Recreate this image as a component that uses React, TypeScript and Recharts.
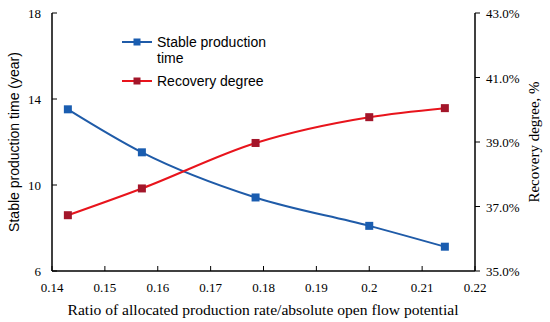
import React from "react";
import { LineChart, Line, XAxis, YAxis, Legend } from "recharts";

// allocated production rate / AOF ratio
const ratios = [0.143, 0.157, 0.1785, 0.2, 0.2143];
const stableTime = [13.52, 11.52, 9.42, 8.1, 7.13];
const recoveryDegree = [36.73, 37.56, 38.97, 39.77, 40.05];

const xTicks = [0.14, 0.15, 0.16, 0.17, 0.18, 0.19, 0.2, 0.21, 0.22];
const leftTicks = [6, 10, 14, 18];
const rightTicks = [35, 37, 39, 41, 43];
const legendOrder = ["time", "recovery"];

const BLUE = "#1f5ba8";
const BLUE_DOT = "#1a5db0";
const RED = "#e8141c";
const RED_DOT = "#a3162a";

const serif = "Liberation Serif";
const sans = "Liberation Sans";

const data = ratios.map((r, i) => ({
  ratio: r,
  time: stableTime[i],
  recovery: recoveryDegree[i],
}));

const fmtX = (v: number) => String(parseFloat(v.toFixed(2)));

const XTick = (p: any) => (
  <g>
    <line x1={p.x} x2={p.x} y1={p.y} y2={p.y - 5} stroke="#000" strokeWidth={1} />
    <text x={p.x} y={p.y + 21} textAnchor="middle" fontFamily={serif} fontSize={13} fill="#000">
      {fmtX(p.payload.value)}
    </text>
  </g>
);

const LeftTick = (p: any) => (
  <g>
    <line x1={p.x} x2={p.x + 5} y1={p.y} y2={p.y} stroke="#000" strokeWidth={1} />
    <text x={p.x - 11} y={p.y + 4.5} textAnchor="end" fontFamily={serif} fontSize={13} fill="#000">
      {p.payload.value}
    </text>
  </g>
);

const RightTick = (p: any) => (
  <g>
    <line x1={p.x} x2={p.x + 5} y1={p.y} y2={p.y} stroke="#000" strokeWidth={1} />
    <text x={p.x + 11} y={p.y + 5} textAnchor="start" fontFamily={serif} fontSize={13} fill="#000">
      {p.payload.value.toFixed(1) + "%"}
    </text>
  </g>
);

const squareDot = (color: string, size: number) => (p: any) => (
  <rect
    key={p.index}
    x={p.cx - size / 2}
    y={p.cy - size / 2}
    width={size}
    height={size}
    fill={color}
  />
);

const LegendBox = (props: any) => {
  const items = [...(props.payload || [])].sort(
    (a: any, b: any) => legendOrder.indexOf(a.dataKey) - legendOrder.indexOf(b.dataKey)
  );
  return (
    <div style={{ fontFamily: sans, fontSize: 14, color: "#000", lineHeight: "16px" }}>
      {items.map((it: any, i: number) => {
        const dotColor = it.dataKey === "time" ? BLUE_DOT : RED_DOT;
        return (
          <div key={i} style={{ display: "flex", alignItems: "flex-start", marginBottom: 7 }}>
            <svg width={36} height={16} style={{ flex: "none" }}>
              <line x1={1} x2={31} y1={8} y2={8} stroke={it.color} strokeWidth={2} />
              <rect x={12.5} y={4.5} width={7} height={7} fill={dotColor} />
            </svg>
            <span style={{ width: it.dataKey === "time" ? 118 : 160 }}>{it.value}</span>
          </div>
        );
      })}
    </div>
  );
};

export default function App() {
  return (
    <div style={{ position: "absolute", left: 0, top: 0, background: "#fff" }}>
      <LineChart width={550} height={322} data={data} margin={{ top: 13, right: 0, bottom: 0, left: 0 }}>
        <XAxis
          dataKey="ratio"
          type="number"
          domain={[0.14, 0.22]}
          ticks={xTicks}
          tickSize={0}
          tickMargin={0}
          tickLine={false}
          tick={XTick}
          height={51}
          stroke="#000"
          strokeWidth={1.5}
          interval={0}
          label={(lp: any) => {
            const vb = lp.viewBox;
            return (
              <text x={vb.x + 211} y={vb.y + 44} textAnchor="middle" fontFamily={serif} fontSize={15.6} fill="#000">
                Ratio of allocated production rate/absolute open flow potential
              </text>
            );
          }}
        />
        <YAxis
          yAxisId="l"
          orientation="left"
          domain={[6, 18]}
          ticks={leftTicks}
          tickSize={0}
          tickMargin={0}
          tickLine={false}
          tick={LeftTick}
          width={52}
          stroke="#000"
          strokeWidth={1.5}
          interval={0}
          label={(lp: any) => {
            const vb = lp.viewBox;
            const cx = vb.x + 15;
            const cy = vb.y + vb.height / 2;
            return (
              <text
                x={cx}
                y={cy}
                transform={`rotate(-90 ${cx} ${cy})`}
                textAnchor="middle"
                dominantBaseline="middle"
                fontFamily={sans}
                fontSize={14}
                fill="#000"
              >
                Stable production time (year)
              </text>
            );
          }}
        />
        <YAxis
          yAxisId="r"
          orientation="right"
          domain={[35, 43]}
          ticks={rightTicks}
          tickSize={0}
          tickMargin={0}
          tickLine={false}
          tick={RightTick}
          width={75}
          stroke="#000"
          strokeWidth={1.5}
          interval={0}
          label={(lp: any) => {
            const vb = lp.viewBox;
            const cx = vb.x + 61;
            const cy = vb.y + vb.height / 2;
            return (
              <text
                x={cx}
                y={cy}
                transform={`rotate(-90 ${cx} ${cy})`}
                textAnchor="middle"
                dominantBaseline="middle"
                fontFamily={serif}
                fontSize={15}
                fill="#000"
              >
                Recovery degree, %
              </text>
            );
          }}
        />
        <Legend
          layout="vertical"
          align="center"
          verticalAlign="middle"
          content={LegendBox}
          wrapperStyle={{ left: 121, top: 34, width: 220 }}
        />
        <Line
          yAxisId="l"
          type="monotone"
          dataKey="time"
          name="Stable production time"
          stroke={BLUE}
          strokeWidth={2}
          dot={squareDot(BLUE_DOT, 8)}
          activeDot={false}
          isAnimationActive={false}
        />
        <Line
          yAxisId="r"
          type="monotone"
          dataKey="recovery"
          name="Recovery degree"
          stroke={RED}
          strokeWidth={2}
          dot={squareDot(RED_DOT, 8)}
          activeDot={false}
          isAnimationActive={false}
        />
      </LineChart>
    </div>
  );
}
